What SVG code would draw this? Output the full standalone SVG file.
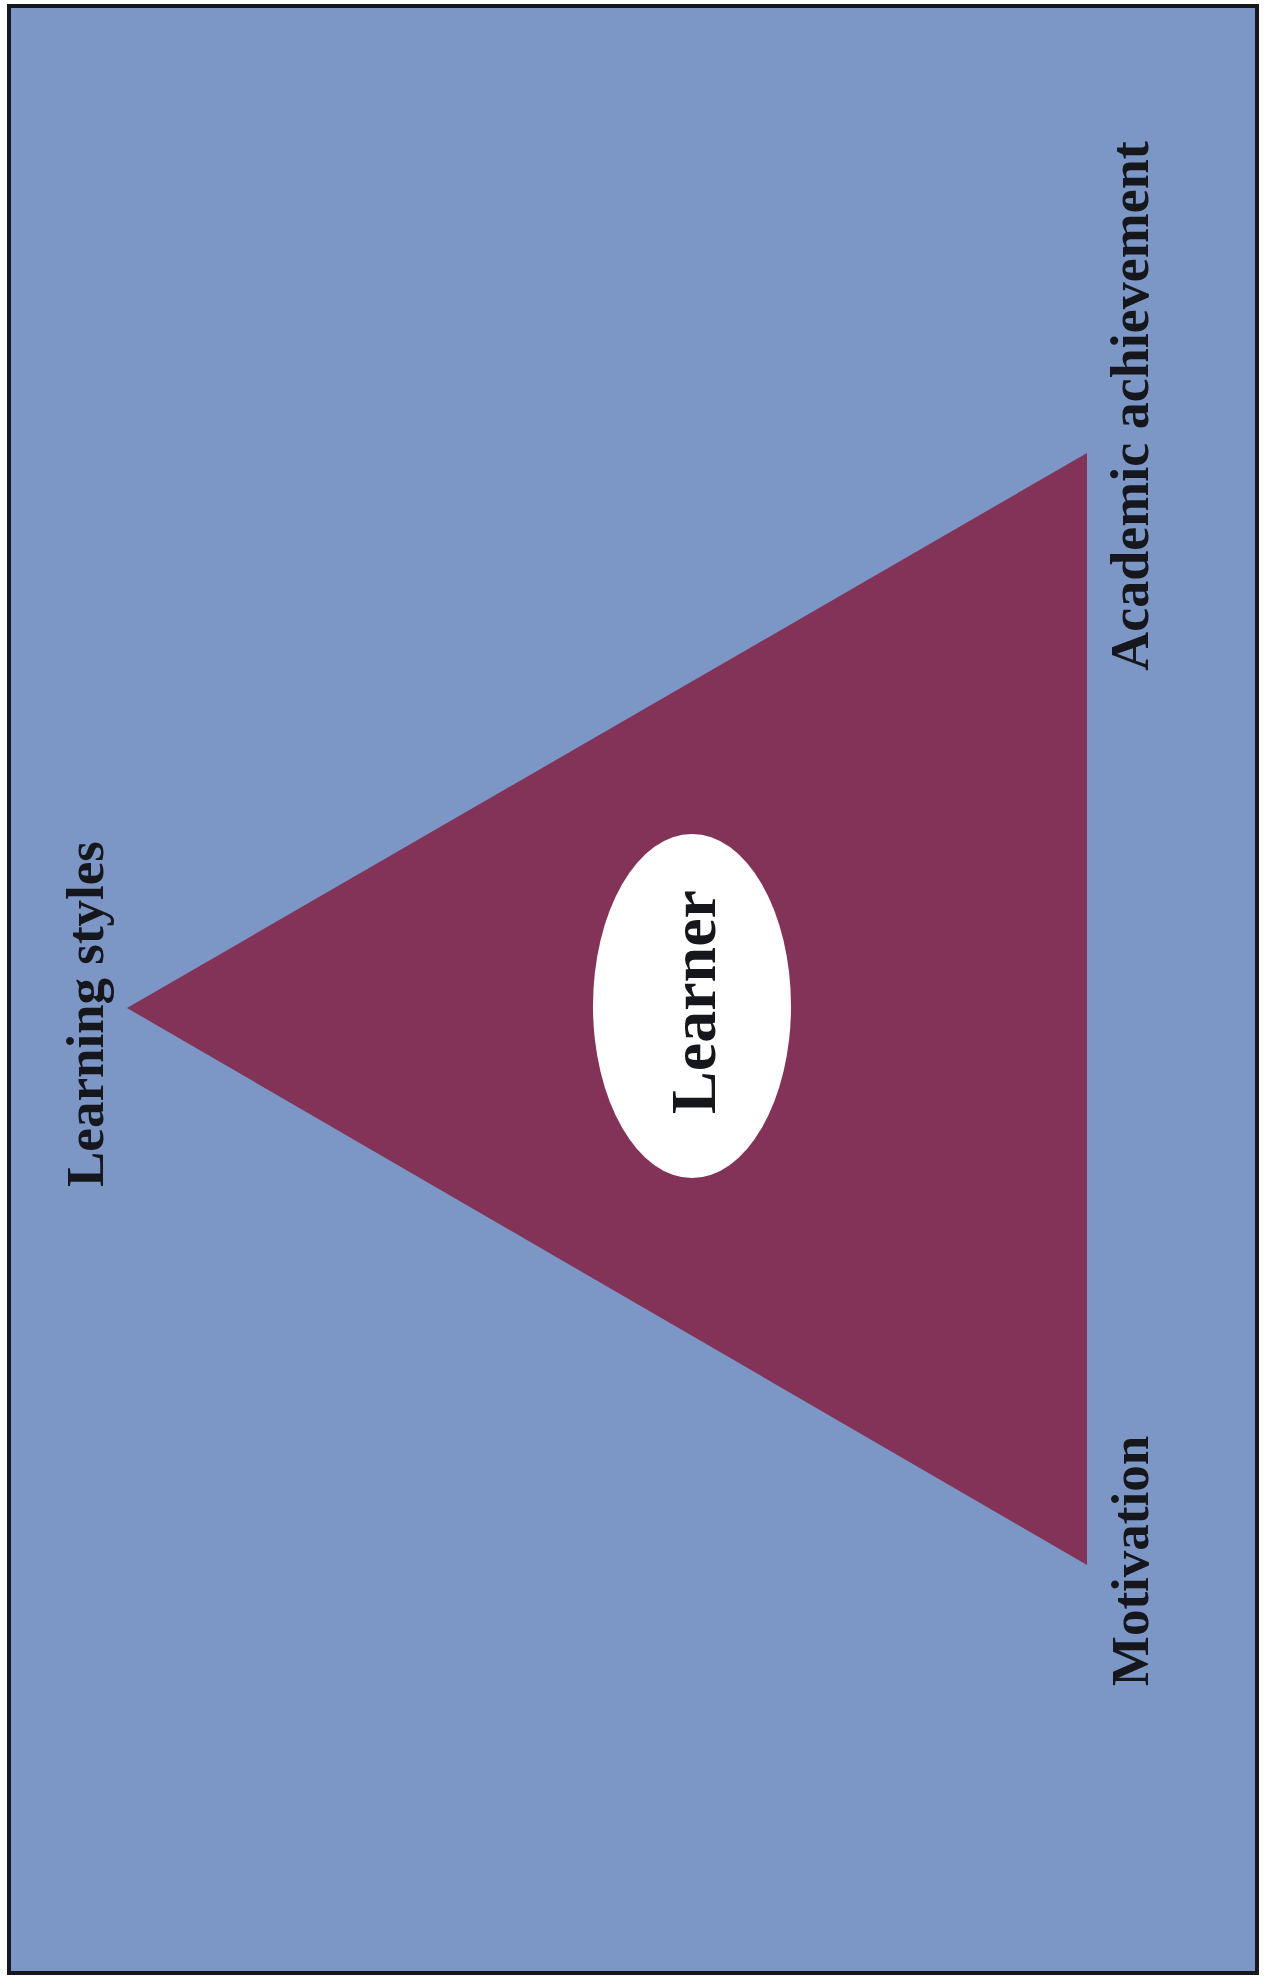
<svg xmlns="http://www.w3.org/2000/svg" width="1264" height="1976" viewBox="0 0 1264 1976">
<style>
.lbl{font-family:"Liberation Serif","Times New Roman",serif;font-weight:bold;fill:#15171d;text-anchor:middle}
</style>
<rect x="0" y="0" width="1264" height="1976" fill="#ffffff"/>
<g id="frame">
<rect x="9" y="6" width="1248" height="1967" fill="#7c97c6" stroke="#16181e" stroke-width="4"/>
</g>
<g id="triangle">
<polygon points="127,1008 1087,453 1087,1565" fill="#843358"/>
</g>
<g id="learner">
<ellipse cx="692" cy="1006" rx="99" ry="172" fill="#ffffff"/>
<text class="lbl" font-size="64" transform="translate(715,1002) rotate(-90)">Learner</text>
</g>
<g id="learning-styles">
<text class="lbl" font-size="53" transform="translate(103,1014) rotate(-90)">Learning styles</text>
</g>
<g id="academic-achievement">
<text class="lbl" font-size="54" transform="translate(1148,406) rotate(-90)">Academic achievement</text>
</g>
<g id="motivation">
<text class="lbl" font-size="53" transform="translate(1148,1561) rotate(-90)">Motivation</text>
</g>
<g id="connectors"></g>
</svg>
